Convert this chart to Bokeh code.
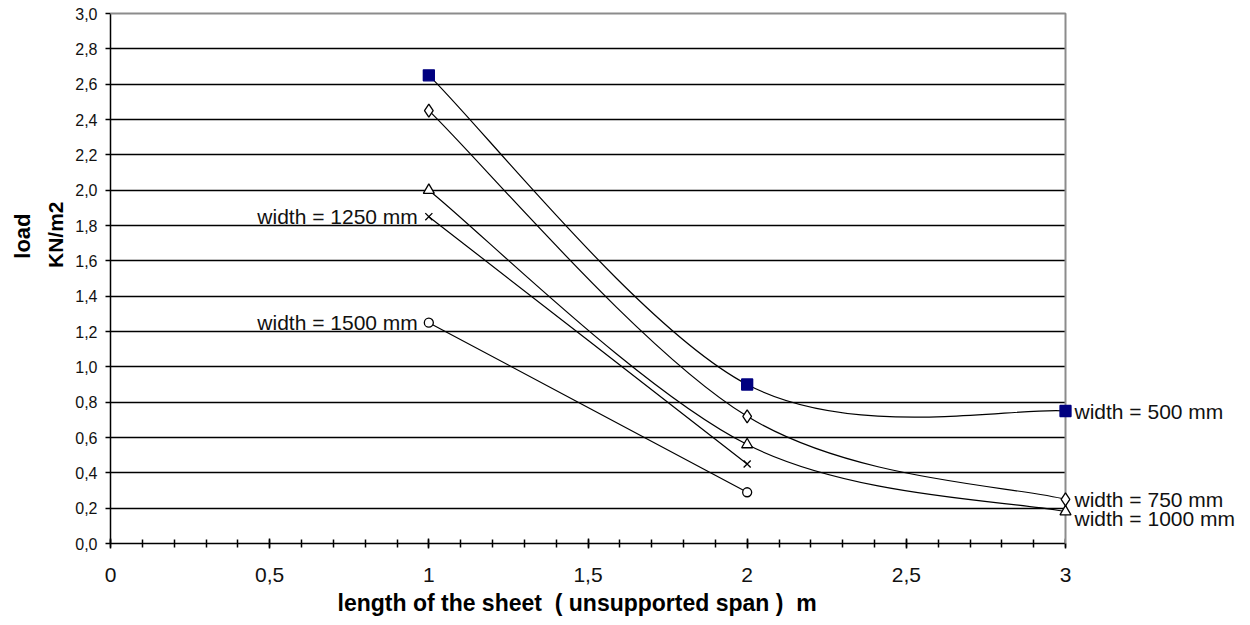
from bokeh.plotting import figure
from bokeh.models import (FixedTicker, Label, Range1d, CustomJSTickFormatter,
                          BoxAnnotation, Title)
from bokeh.embed import file_html
from bokeh.resources import INLINE

# ---- data ----
span3 = [1, 2, 3]
span2 = [1, 2]
load_500 = [2.65, 0.90, 0.75]
load_750 = [2.45, 0.72, 0.25]
load_1000 = [2.00, 0.56, 0.18]
load_1250 = [1.85, 0.45]
load_1500 = [1.25, 0.29]
series_names = ["width = 500 mm", "width = 750 mm", "width = 1000 mm",
                "width = 1250 mm", "width = 1500 mm"]

x_ticks = [0, 0.5, 1, 1.5, 2, 2.5, 3]
x_tick_labels = ["0", "0,5", "1", "1,5", "2", "2,5", "3"]
y_ticks = [0.0, 0.2, 0.4, 0.6, 0.8, 1.0, 1.2, 1.4, 1.6, 1.8, 2.0,
           2.2, 2.4, 2.6, 2.8, 3.0]
y_tick_labels = ["0,0", "0,2", "0,4", "0,6", "0,8", "1,0", "1,2", "1,4",
                 "1,6", "1,8", "2,0", "2,2", "2,4", "2,6", "2,8", "3,0"]
x_title = "length of the sheet \u00a0( unsupported span ) \u00a0m"
y_title = ["load", "KN/m2"]

FONT = "Liberation Sans"
X_MAX, Y_MAX = x_ticks[-1], y_ticks[-1]

# plot-area geometry (pixels) -- axis area ends at x = 3, the frame runs on to
# the right edge so that the series labels there are not clipped
W, H = 1250, 625
LEFT, TOP, BOTTOM = 110, 9, 82
AXIS_RIGHT_PX = 1065
frame_w = W - LEFT
frame_h = H - TOP - BOTTOM
x_end = X_MAX * frame_w / (AXIS_RIGHT_PX - LEFT)
y_end = Y_MAX * frame_h / (frame_h - 4)

p = figure(width=W, height=H,
           x_range=Range1d(0, x_end), y_range=Range1d(0, y_end),
           output_backend="svg", toolbar_location=None,
           min_border_left=LEFT, min_border_right=0,
           min_border_top=TOP, min_border_bottom=BOTTOM,
           background_fill_color="white", border_fill_color="white")
p.outline_line_color = None

fmt_code = """
const i = tv.findIndex(t => Math.abs(t - tick) < 1e-9);
return i >= 0 ? tl[i] : '';
"""

# x axis
p.xaxis.bounds = (0, X_MAX)
p.xaxis.ticker = FixedTicker(ticks=x_ticks,
                             minor_ticks=[i / 10 for i in range(31)])
p.xaxis.formatter = CustomJSTickFormatter(
    args=dict(tv=x_ticks, tl=x_tick_labels), code=fmt_code)
p.xaxis.axis_line_color = "black"
p.xaxis.axis_line_width = 1.5
p.xaxis.major_tick_in = 5
p.xaxis.major_tick_out = 5
p.xaxis.minor_tick_in = 4
p.xaxis.minor_tick_out = 4
p.xaxis.major_tick_line_color = "black"
p.xaxis.minor_tick_line_color = "black"
p.xaxis.major_tick_line_width = 1.5
p.xaxis.minor_tick_line_width = 1.5
p.xaxis.major_label_text_font = FONT
p.xaxis.major_label_text_font_size = "21px"
p.xaxis.major_label_text_color = "#111111"
p.xaxis.major_label_standoff = 19

# y axis
p.yaxis.bounds = (0, Y_MAX)
p.yaxis.ticker = FixedTicker(ticks=y_ticks, minor_ticks=[])
p.yaxis.formatter = CustomJSTickFormatter(
    args=dict(tv=y_ticks, tl=y_tick_labels), code=fmt_code)
p.yaxis.axis_line_color = "black"
p.yaxis.axis_line_width = 1.5
p.yaxis.major_tick_in = 0
p.yaxis.major_tick_out = 5
p.yaxis.major_tick_line_color = "black"
p.yaxis.major_tick_line_width = 1.5
p.yaxis.major_label_text_font = FONT
p.yaxis.major_label_text_font_size = "16px"
p.yaxis.major_label_text_color = "#111111"
p.yaxis.major_label_standoff = 8

# grid
p.xgrid.visible = False
p.ygrid.ticker = FixedTicker(ticks=y_ticks[1:-1])
p.ygrid.grid_line_color = "black"
p.ygrid.grid_line_width = 1.3

# axis titles
p.add_layout(Title(text=x_title, align="left", offset=227, standoff=6,
                   text_font=FONT, text_font_size="23px",
                   text_font_style="bold", text_color="black"), "below")
p.add_layout(Title(text=y_title[1], align="right", offset=192, standoff=9,
                   vertical_align="middle",
                   text_font=FONT, text_font_size="21px",
                   text_font_style="bold", text_color="black"), "left")
p.add_layout(Title(text=y_title[0], align="right", offset=204, standoff=5,
                   vertical_align="middle",
                   text_font=FONT, text_font_size="22px",
                   text_font_style="bold", text_color="black"), "left")


def smooth(xs, ys):
    """Bezier control points for a smoothed line through the points."""
    n = len(xs)
    out = dict(x0=[], y0=[], x1=[], y1=[], cx0=[], cy0=[], cx1=[], cy1=[])
    for i in range(n - 1):
        xa, ya = xs[max(i - 1, 0)], ys[max(i - 1, 0)]
        xb, yb = xs[i], ys[i]
        xc, yc = xs[i + 1], ys[i + 1]
        xd, yd = xs[min(i + 2, n - 1)], ys[min(i + 2, n - 1)]
        out["x0"].append(xb); out["y0"].append(yb)
        out["x1"].append(xc); out["y1"].append(yc)
        out["cx0"].append(xb + (xc - xa) / 6); out["cy0"].append(yb + (yc - ya) / 6)
        out["cx1"].append(xc - (xd - xb) / 6); out["cy1"].append(yc - (yd - yb) / 6)
    return out


series = [
    (span3, load_500, "square", "#000080", "#000080", 11),
    (span3, load_750, "diamond", "white", "black", 13),
    (span3, load_1000, "triangle", "white", "black", 11),
    (span2, load_1250, "x", "white", "black", 10),
    (span2, load_1500, "circle", "white", "black", 9),
]

for xs, ys, *_ in series:
    p.bezier(**smooth(xs, ys), line_color="black", line_width=1.2)

# blank out the grid to the right of the plot area
p.add_layout(BoxAnnotation(left=X_MAX, fill_color="white", fill_alpha=1,
                           line_color=None))

# gray plot-area border on top and right
border = p.line(x=[0, X_MAX, X_MAX], y=[Y_MAX, Y_MAX, 0],
                line_color="#8c8c8c", line_width=2)
border.level = "overlay"

for xs, ys, marker, fill, line, size in series:
    r = p.scatter(xs, ys, marker=marker, size=size, fill_color=fill,
                  line_color=line, line_width=1.3)
    r.level = "overlay"

# series labels
label_specs = [
    (span3[-1], load_500[-1], series_names[0], "left", 9, 0),
    (span3[-1], load_750[-1], series_names[1], "left", 9, 0),
    (span3[-1], load_1000[-1], series_names[2], "left", 9, -7),
    (span2[0], load_1250[0], series_names[3], "right", -11, 0),
    (span2[0], load_1500[0], series_names[4], "right", -11, 0),
]
for lx, ly, txt, align, xo, yo in label_specs:
    p.add_layout(Label(x=lx, y=ly, text=txt, text_align=align,
                       text_baseline="middle", x_offset=xo, y_offset=yo,
                       text_font=FONT, text_font_size="21px",
                       text_color="#111111"))

open("out.html", "w").write(file_html(p, INLINE))
